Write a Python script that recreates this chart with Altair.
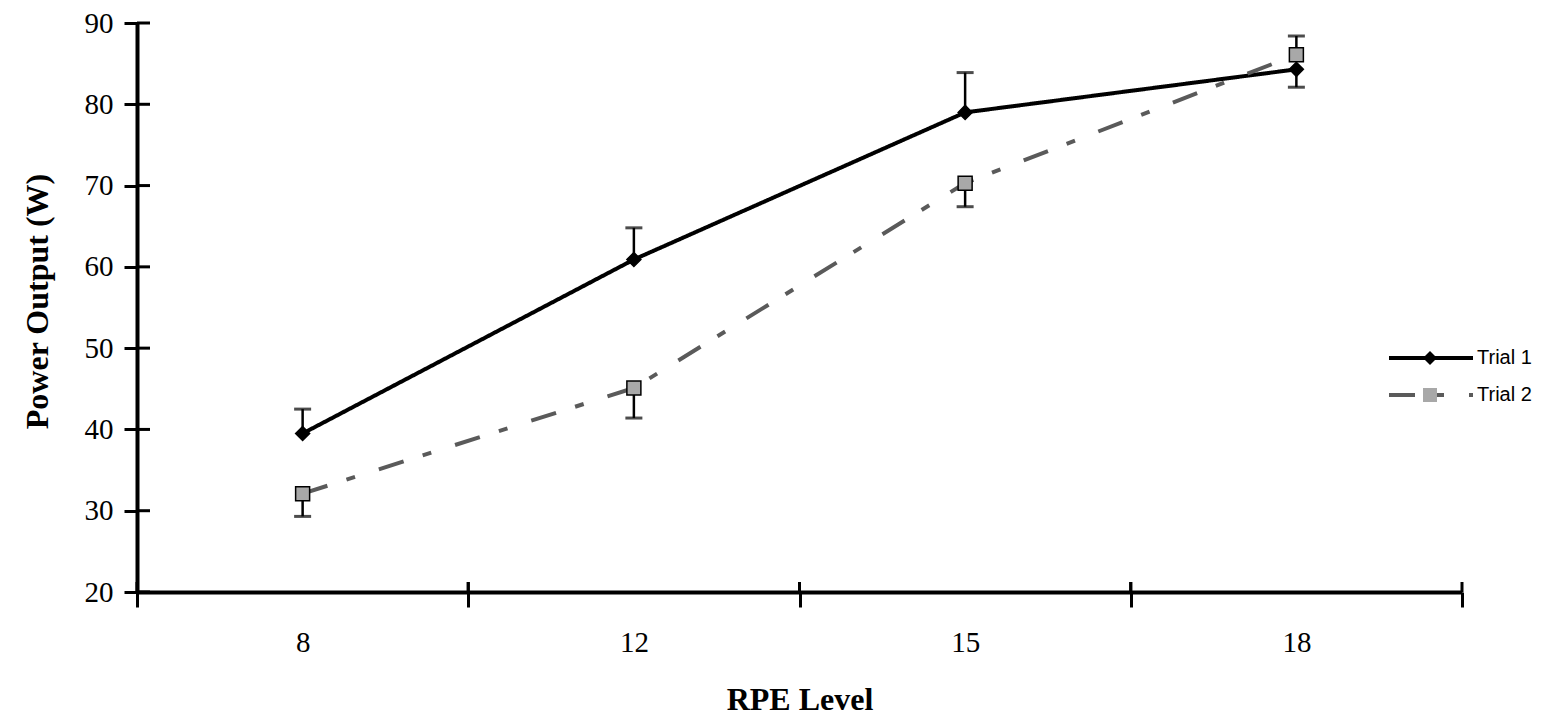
import altair as alt
import pandas as pd

# ---- data ----
rpe_levels = ["8", "12", "15", "18"]
series_names = ["Trial 1", "Trial 2"]
trial1_power = [39.5, 60.9, 79.0, 84.3]
trial1_err_end = [42.5, 64.8, 83.9, 82.1]
trial2_power = [32.1, 45.1, 70.3, 86.1]
trial2_err_end = [29.3, 41.4, 67.4, 88.4]
y_ticks = [20, 30, 40, 50, 60, 70, 80, 90]

rows = []
for name, vals, ends in [
    (series_names[0], trial1_power, trial1_err_end),
    (series_names[1], trial2_power, trial2_err_end),
]:
    for r, v, e in zip(rpe_levels, vals, ends):
        rows.append({"rpe": r, "series": name, "marker": name, "power": v, "err_end": e})
df = pd.DataFrame(rows)
tick_df = pd.DataFrame({"v": y_ticks})
cat_df = pd.DataFrame({"rpe": rpe_levels})

W, H = 1325, 569
SERIF = "Liberation Serif"
SANS = "Liberation Sans"

x_scale = alt.Scale(type="band", paddingInner=0, paddingOuter=0)
y_scale = alt.Scale(domain=[20, 90], nice=False, zero=False)

x_axis = alt.Axis(
    tickBand="extent", tickSize=15, tickWidth=3, tickColor="black",
    domainWidth=4, domainColor="black", labelAngle=0,
    labelFont=SERIF, labelFontSize=29, labelColor="black", labelPadding=21,
    title="RPE Level", titleFont=SERIF, titleFontSize=32, titleFontWeight="bold",
    titleColor="black", titleBaseline="middle", titleY=107, titleX=W / 2,
    grid=False,
)
y_axis = alt.Axis(
    values=y_ticks, tickSize=13, tickWidth=3, tickColor="black",
    domainWidth=4, domainColor="black",
    labelFont=SERIF, labelFontSize=29, labelColor="black", labelPadding=11,
    title="Power Output (W)", titleFont=SERIF, titleFontSize=32, titleFontWeight="bold",
    titleColor="black", titleAngle=270, titleAlign="center", titleBaseline="middle",
    titleX=-100, titleY=278, grid=False,
)

X = alt.X("rpe:O", sort=rpe_levels, scale=x_scale, axis=x_axis, bandPosition=0.5)
Xn = alt.X("rpe:O", sort=rpe_levels, scale=x_scale, bandPosition=0.5)
Y = alt.Y("power:Q", scale=y_scale, axis=y_axis)

line_legend = dict(
    orient="none", legendX=1284, legendY=325, title=None,
    symbolType="M-12,0H12", symbolSize=49, symbolStrokeWidth=4,
    labelFont=SANS, labelFontSize=20, labelColor="black", labelOffset=36,
    rowPadding=17, padding=0,
)
marker_legend = dict(
    orient="none", legendX=1283, legendY=325, title=None,
    symbolSize=196, symbolStrokeColor="black", symbolStrokeWidth=1.5,
    labelFont=SANS, labelFontSize=20, labelExpr="''",
    rowPadding=17, padding=0,
)

base = alt.Chart(df)

lines = base.mark_line(strokeWidth=4).encode(
    x=X,
    y=Y,
    color=alt.Color("series:N", scale=alt.Scale(domain=series_names, range=["black", "#5a5a5a"]),
                    legend=alt.Legend(**line_legend)),
    strokeDash=alt.StrokeDash("series:N", scale=alt.Scale(domain=series_names, range=[[1, 0], [26, 20, 9, 25]]),
                              legend=alt.Legend(**line_legend)),
)

err_rules = base.mark_rule(strokeWidth=2.5, color="black").encode(
    x=Xn, y=alt.Y("power:Q", scale=y_scale), y2="err_end:Q"
)
err_caps = base.mark_tick(size=17, thickness=3, color="black").encode(
    x=Xn, y=alt.Y("err_end:Q", scale=y_scale)
)

points = base.mark_point(filled=True, stroke="black", strokeWidth=1.5, opacity=1).encode(
    x=Xn,
    y=alt.Y("power:Q", scale=y_scale),
    shape=alt.Shape("marker:N", scale=alt.Scale(range=["diamond", "square"]),
                    legend=alt.Legend(**marker_legend)),
    fill=alt.Fill("marker:N", scale=alt.Scale(range=["black", "#a8a8a8"]),
                  legend=alt.Legend(**marker_legend)),
    size=alt.value(196),
)

# inner halves of the axis ticks (ticks cross the axis lines in the reference)
y_inner = alt.Chart(tick_df).mark_rule(strokeWidth=3, color="black").encode(
    y=alt.Y("v:Q", scale=y_scale), x=alt.value(0), x2=alt.value(13)
)
x_inner_a = alt.Chart(cat_df).mark_rule(strokeWidth=3, color="black").encode(
    x=alt.X("rpe:O", sort=rpe_levels, scale=x_scale, bandPosition=0),
    y=alt.value(H), y2=alt.value(H - 10),
)
x_inner_b = alt.Chart(cat_df).mark_rule(strokeWidth=3, color="black").encode(
    x=alt.X("rpe:O", sort=rpe_levels, scale=x_scale, bandPosition=1),
    y=alt.value(H), y2=alt.value(H - 10),
)

chart = alt.layer(
    lines, err_rules, err_caps, points, y_inner, x_inner_a, x_inner_b
).properties(
    width=W, height=H,
    autosize=alt.AutoSizeParams(type="none"),
    padding={"left": 129, "top": 15, "right": 88, "bottom": 123},
).configure(background="white").configure_view(strokeOpacity=0)

chart.save("out.html", embed_options={"renderer": "svg", "actions": False})
